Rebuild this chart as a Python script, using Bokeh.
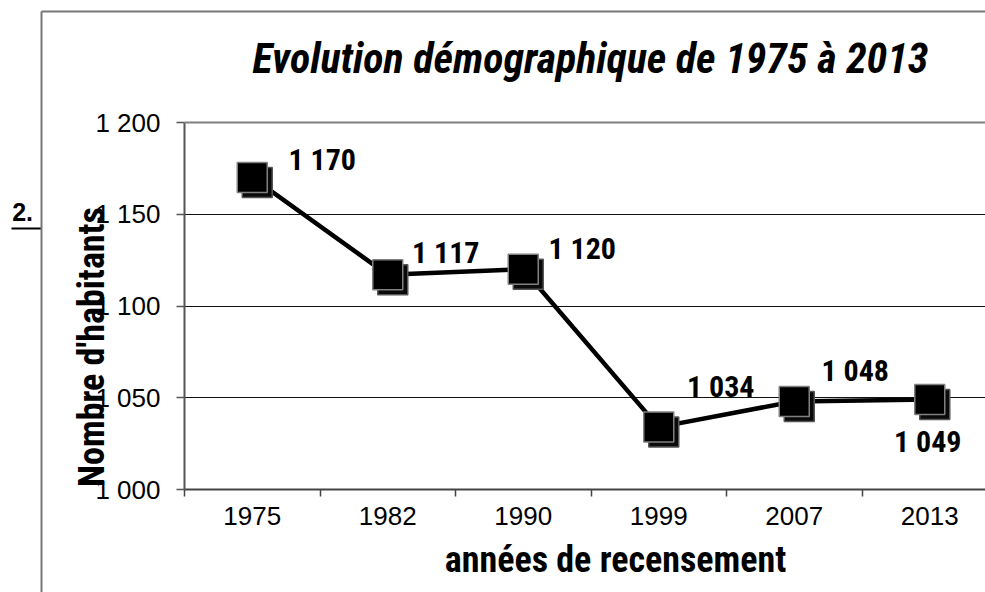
import numpy as np
from bokeh.plotting import figure
from bokeh.models import Range1d, FixedTicker, Label, Arrow, ColumnDataSource, Grid
from bokeh.core.properties import value
from bokeh.embed import file_html
from bokeh.resources import INLINE

# ---- data ----
years = ["1975", "1982", "1990", "1999", "2007", "2013"]
population = [1170, 1117, 1120, 1034, 1048, 1049]
point_labels = ["1 170", "1 117", "1 120", "1 034", "1 048", "1 049"]
y_ticks = [1000, 1050, 1100, 1150, 1200]
y_tick_labels = ["1 000", "1 050", "1 100", "1 150", "1 200"]

title_text = "Evolution démographique de 1975 à 2013"
x_title = "années de recensement"
y_title = "Nombre d'habitants"
side_note = "2."

# ---- style ----
label_dx = [70, 58, 59, 62, 61, -2]
label_dy = [-18, -22, -21, -41, -31, 42]
NARROW = "Roboto Condensed, Liberation Sans"
REG = "Liberation Sans"

W, H = 985, 592
AX_L, AX_B, AX_T = 184, 489, 122     # page px of y-axis, 1000 line, 1200 line
px_per_x = 135.5
py_per_y = (AX_B - AX_T) / 200.0

def X(px):      # page px -> data x
    return (px - AX_L) / px_per_x

def Y(py):      # page px -> data y
    return 1000 + (AX_B - py) / py_per_y

xs = np.arange(len(years)) + 0.5

p = figure(width=W, height=H, output_backend="svg", toolbar_location=None,
           x_range=Range1d(X(0), X(W)), y_range=Range1d(Y(H), Y(0)),
           min_border=0, background_fill_color="white",
           border_fill_color="white", outline_line_color=None)

sh = 5
p.extra_x_ranges = {"shx": Range1d(X(0) - sh / px_per_x, X(W) - sh / px_per_x)}
p.extra_y_ranges = {"shy": Range1d(Y(H) + sh / py_per_y, Y(0) + sh / py_per_y)}

# axes (placed inside the full-canvas frame)
p.yaxis.fixed_location = 0
p.yaxis.bounds = (1000, 1200)
p.yaxis.ticker = FixedTicker(ticks=y_ticks)
p.yaxis.major_label_overrides = {float(t): l for t, l in zip(y_ticks, y_tick_labels)}
p.yaxis.major_label_text_font = REG
p.yaxis.major_label_text_font_size = "26px"
p.yaxis.major_label_text_color = "black"
p.yaxis.major_tick_out = 8
p.yaxis.major_tick_in = 0
p.yaxis.minor_tick_line_color = None
p.yaxis.major_tick_line_color = "#555"
p.yaxis.major_tick_line_width = 1.5
p.yaxis.major_label_standoff = 16
p.yaxis.axis_line_color = "#555"
p.yaxis.axis_line_width = 2

p.xaxis.fixed_location = 1000
p.xaxis.bounds = (0, len(years))
p.xaxis.ticker = FixedTicker(ticks=list(xs), minor_ticks=list(range(0, len(years) + 1)))
p.xaxis.major_label_overrides = {float(x): y for x, y in zip(xs, years)}
p.xaxis.major_label_text_font = REG
p.xaxis.major_label_text_font_size = "26px"
p.xaxis.major_label_text_color = "black"
p.xaxis.major_tick_out = 0
p.xaxis.major_tick_in = 0
p.xaxis.major_tick_line_color = None
p.xaxis.minor_tick_out = 7
p.xaxis.minor_tick_in = 0
p.xaxis.minor_tick_line_color = "#444"
p.xaxis.minor_tick_line_width = 1.5
p.xaxis.major_label_standoff = 10
p.xaxis.axis_line_color = "#444"
p.xaxis.axis_line_width = 2

p.xgrid.visible = False
p.ygrid.ticker = FixedTicker(ticks=y_ticks[1:-1])
p.ygrid.grid_line_color = "#111"
p.ygrid.grid_line_width = 1
if "cross_bounds" in Grid.properties():
    p.ygrid.cross_bounds = (0, X(W) + 1)

# top line of the plot area
p.add_layout(Arrow(start=None, end=None, x_start=0, y_start=1200, x_end=X(W) + 1, y_end=1200,
                   line_color="#808080", line_width=2))

# data
src = ColumnDataSource(dict(x=xs, y=population, label=point_labels, dx=label_dx, dy=label_dy))
p.line("x", "y", source=src, line_color="black", line_width=4.5)
p.scatter("x", "y", source=src, marker="square", size=30, fill_color="#0a0a0a",
          line_color="#555", line_width=1.5, x_range_name="shx", y_range_name="shy")
p.scatter("x", "y", source=src, marker="square", size=30, fill_color="black",
          line_color="#808080", line_width=1.5)
p.text("x", "y", text="label", x_offset="dx", y_offset="dy", source=src,
       text_font=value(NARROW), text_font_size=value("30px"), text_font_style="bold",
       text_align="center", text_baseline="middle", text_color="black")

# texts
p.add_layout(Label(x=X(590), y=Y(58), text=title_text, text_font=NARROW,
                   text_font_size="42px", text_font_style="bold italic",
                   text_align="center", text_baseline="middle", text_color="black"))
p.add_layout(Label(x=X(615), y=Y(559.5), text=x_title, text_font=NARROW,
                   text_font_size="36px", text_font_style="bold",
                   text_align="center", text_baseline="middle", text_color="black"))
p.add_layout(Label(x=X(91.5), y=Y(346.5), text=y_title, text_font=NARROW,
                   text_font_size="36px", text_font_style="bold", angle=np.pi / 2,
                   text_align="center", text_baseline="middle", text_color="black"))
p.add_layout(Label(x=X(11.7), y=Y(211), text=side_note, text_font=REG,
                   text_font_size="25px", text_font_style="bold",
                   text_align="left", text_baseline="middle", text_color="black"))

# frame lines and underline
p.add_layout(Arrow(start=None, end=None, x_start=X(11), y_start=Y(228), x_end=X(41), y_end=Y(228),
                   line_color="black", line_width=2))
p.add_layout(Arrow(start=None, end=None, x_start=X(41), y_start=Y(11), x_end=X(41), y_end=Y(700),
                   line_color="#777", line_width=2))
p.add_layout(Arrow(start=None, end=None, x_start=X(41), y_start=Y(11), x_end=X(1100), y_end=Y(11),
                   line_color="#777", line_width=2))

open("out.html", "w").write(file_html(p, INLINE))
